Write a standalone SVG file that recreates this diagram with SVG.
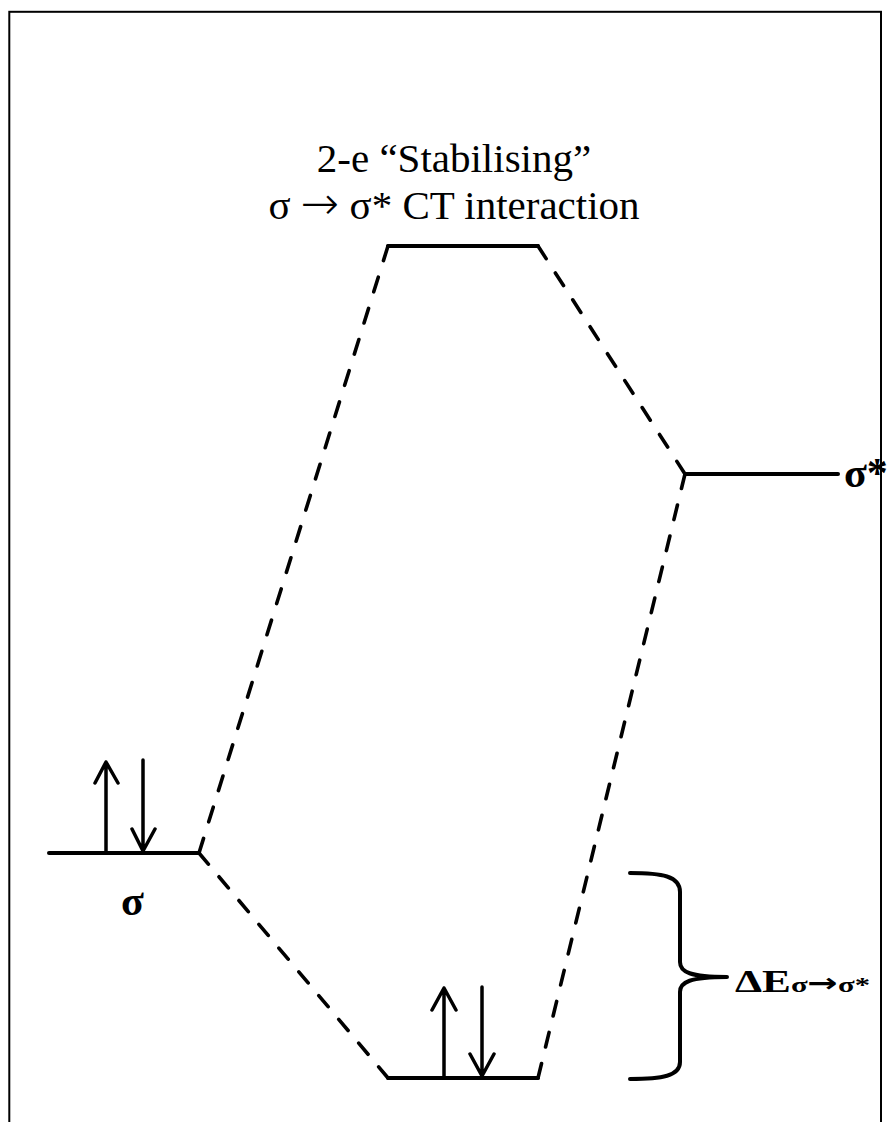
<svg xmlns="http://www.w3.org/2000/svg" width="890" height="1122" viewBox="0 0 890 1122">
<style>
.frame{fill:none;stroke:#000;stroke-width:2}
.lvl{fill:none;stroke:#000;stroke-width:4;stroke-linecap:round}
.arr{fill:none;stroke:#000;stroke-width:3.5;stroke-linecap:round;stroke-linejoin:round}
.dash{fill:none;stroke:#000;stroke-width:3.6;stroke-linecap:round;stroke-dasharray:15 17}
.title{font-family:"Liberation Serif","Times New Roman",serif;font-size:41px;fill:#000;text-anchor:middle}
.lab{font-family:"Liberation Serif","Times New Roman",serif;font-weight:bold;fill:#000}
.ar{font-family:"DejaVu Sans",sans-serif;font-weight:200}
</style>
<rect x="0" y="0" width="890" height="1122" fill="#fff"/>
<rect class="frame" x="9.3" y="11.8" width="871.7" height="1130"/>

<g id="title">
<text class="title" x="454" y="172">2-e “Stabilising”</text>
<text class="title" x="454" y="219">σ <tspan class="ar" font-size="46">→</tspan> σ* CT interaction</text>
</g>

<g id="connectors">
<path class="dash" d="M388,246 L199,853" pathLength="623"/>
<path class="dash" d="M199,853 L388,1078" pathLength="303"/>
<path class="dash" d="M538,246 L685,474" pathLength="271"/>
<path class="dash" d="M685,474 L538,1078" pathLength="623"/>
</g>

<g id="level-top">
<line class="lvl" x1="388" y1="246" x2="538" y2="246"/>
</g>

<g id="level-sigma-star">
<line class="lvl" x1="685" y1="474" x2="838" y2="474"/>
<text class="lab" x="844" y="487" font-size="42">σ*</text>
</g>

<g id="level-sigma">
<line class="lvl" x1="49" y1="853" x2="199" y2="853"/>
<path class="arr" d="M106,853 L106,762 M95,783 L106,762 L118,783"/>
<path class="arr" d="M143,760 L143,851 M132,829 L143,851 L155,829"/>
<text class="lab" x="121" y="915" font-size="42">σ</text>
</g>

<g id="level-bottom">
<line class="lvl" x1="388" y1="1078" x2="538" y2="1078"/>
<path class="arr" d="M444,1078 L444,988 M432,1010 L444,988 L456,1010"/>
<path class="arr" d="M482,987 L482,1076 M470,1054 L482,1076 L494,1054"/>
</g>

<g id="delta-e">
<path class="lvl" d="M630,873 C662,873 680,876 680,892 L680,962 C680,972 690,977 727,977 M727,977 C690,977 680,982 680,992 L680,1062 C680,1076 662,1079 630,1079"/>
<text class="lab" x="735" y="992" font-size="31" textLength="135" lengthAdjust="spacingAndGlyphs">ΔE<tspan font-size="22">σ<tspan font-family="DejaVu Sans, sans-serif" font-size="26">→</tspan>σ*</tspan></text>
</g>
</svg>
